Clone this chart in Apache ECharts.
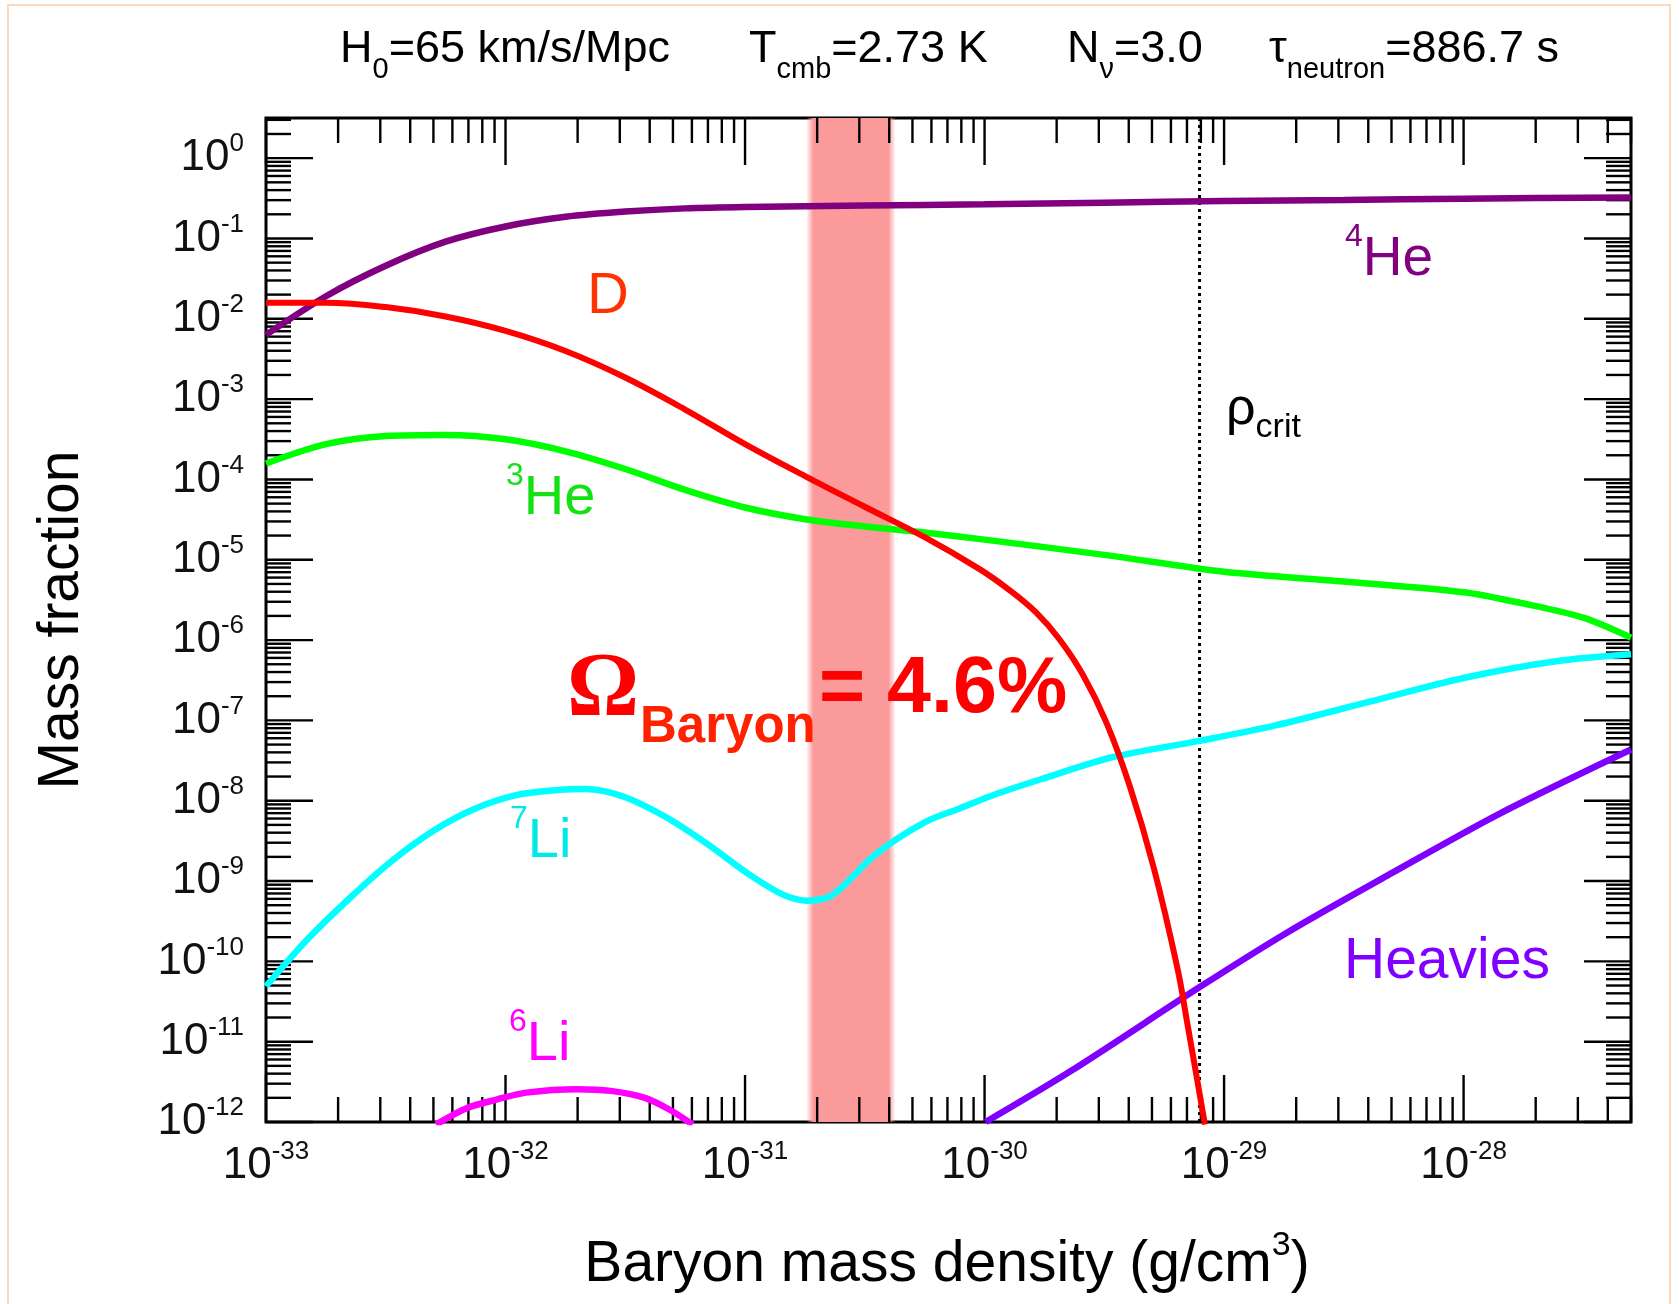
<!DOCTYPE html>
<html><head><meta charset="utf-8">
<script src="https://cdn.jsdelivr.net/npm/echarts@6/dist/echarts.min.js"></script>
<style>html,body{margin:0;padding:0;background:#fff}#c{width:1679px;height:1304px}</style>
</head><body><div id="c"></div><script>
// ---------------- data ----------------
const X_MIN = 1e-33, X_MAX = 5e-28, Y_MIN = 1e-12, Y_MAX = 3.162;
const RHO_CRIT = 7.9e-30;              // dotted line (critical density)
const BAND = [1.80e-31, 4.25e-31];     // shaded Omega_b band (incl. soft edges)

const he4X = [1e-33, 1.78e-33, 3.16e-33, 5.62e-33, 1e-32, 1.78e-32, 3.16e-32, 5.62e-32, 1e-31, 3.16e-31, 1e-30, 3.16e-30, 1e-29, 3.16e-29, 1e-28, 5e-28];
const he4Y = [6.31e-3, 1.91e-2, 4.57e-2, 9.12e-2, 0.141, 0.186, 0.216, 0.237, 0.247, 0.257, 0.266, 0.279, 0.292, 0.302, 0.313, 0.324];

const dX = [1e-33, 1.78e-33, 3.16e-33, 5.62e-33, 1e-32, 1.78e-32, 3.16e-32, 5.62e-32, 1e-31, 1.78e-31, 3.16e-31, 5.62e-31, 9.57e-31, 1.25e-30, 1.64e-30, 2.05e-30, 2.57e-30, 3.23e-30, 4.05e-30, 5.08e-30, 6.37e-30, 6.99e-30, 8.32e-30];
const dY = [1.58e-2, 1.58e-2, 1.40e-2, 1.07e-2, 7.08e-3, 3.98e-3, 1.86e-3, 7.41e-4, 2.75e-4, 1.10e-4, 4.57e-5, 1.91e-5, 7.59e-6, 4.34e-6, 2.21e-6, 1.03e-6, 3.72e-7, 9.33e-8, 1.48e-8, 1.48e-9, 8.53e-11, 1.84e-11, 9.3e-13];

const he3X = [1e-33, 1.78e-33, 3.16e-33, 5.62e-33, 1e-32, 1.78e-32, 3.16e-32, 5.62e-32, 1e-31, 1.78e-31, 3.16e-31, 5.62e-31, 1e-30, 3.16e-30, 1e-29, 3.16e-29, 1e-28, 1.78e-28, 3.16e-28, 5e-28];
const he3Y = [1.58e-4, 2.75e-4, 3.47e-4, 3.57e-4, 3.16e-4, 2.24e-4, 1.35e-4, 7.41e-5, 4.47e-5, 3.20e-5, 2.60e-5, 2.19e-5, 1.78e-5, 1.15e-5, 7.08e-6, 5.37e-6, 3.95e-6, 2.85e-6, 1.90e-6, 1.07e-6];

const li7X = [1e-33, 1.50e-33, 2.24e-33, 3.36e-33, 5.04e-33, 7.53e-33, 1.13e-32, 1.69e-32, 2.15e-32, 3.10e-32, 4.65e-32, 6.95e-32, 1.04e-31, 1.44e-31, 1.83e-31, 2.33e-31, 3.50e-31, 5.64e-31, 7.87e-31, 1.09e-30, 1.72e-30, 3.38e-30, 7.98e-30, 1.64e-29, 4.06e-29, 1.00e-28, 2.47e-28, 5e-28];
const li7Y = [4.9e-11, 1.92e-10, 6.15e-10, 1.79e-9, 4.29e-9, 8.05e-9, 1.19e-8, 1.37e-8, 1.40e-8, 1.13e-8, 6.31e-9, 2.90e-9, 1.21e-9, 6.78e-10, 5.69e-10, 6.78e-10, 2.14e-9, 5.41e-9, 8.02e-9, 1.18e-8, 1.85e-8, 3.45e-8, 5.60e-8, 8.67e-8, 1.71e-7, 3.37e-7, 5.48e-7, 6.65e-7];

const li6X = [5.13e-33, 6.95e-33, 9.23e-33, 1.22e-32, 1.99e-32, 2.75e-32, 3.79e-32, 4.83e-32, 6.04e-32];
const li6Y = [9.3e-13, 1.50e-12, 1.91e-12, 2.32e-12, 2.56e-12, 2.44e-12, 2.01e-12, 1.43e-12, 9.3e-13];

const hvX = [1.01e-30, 2.30e-30, 7.91e-30, 1.80e-29, 5.05e-29, 1.41e-28, 5e-28];
const hvY = [1.0e-12, 4.34e-12, 4.78e-11, 2.21e-10, 1.27e-9, 6.87e-9, 4.34e-8];

// tick layout (decades and log minor multipliers)
const xDecades = [-33, -32, -31, -30, -29, -28];
const yDecades = [-12, -11, -10, -9, -8, -7, -6, -5, -4, -3, -2, -1, 0];
const minorSteps = [2, 3, 4, 5, 6, 7, 8, 9];

// ---------------- chart ----------------
const FONT = "'Liberation Sans', Arial, Helvetica, sans-serif";
const zip = (xs, ys) => xs.map((x, i) => [x, ys[i]]);

function buildTicks(decades, lo, hi) {
  const out = [];
  decades.forEach(e => {
    const base = Math.pow(10, e);
    out.push([base, 1, e]);
    minorSteps.forEach(k => out.push([k * base, 0, e]));
  });
  return out.filter(t => t[0] >= lo * 0.9999 && t[0] <= hi * 1.0001);
}
const xTicks = buildTicks(xDecades, X_MIN, X_MAX).map(t => [t[0], Y_MIN, t[1], t[2]]);
const yTicks = buildTicks(yDecades, Y_MIN, Y_MAX).map(t => [X_MIN, t[0], t[1], t[2]]);

function lineSeries(name, xs, ys, color, width, smooth) {
  return {
    name, type: 'line', data: zip(xs, ys), smooth: smooth || 0.3,
    showSymbol: false, symbol: 'none', lineStyle: { color, width: width || 6.5 },
    itemStyle: { color }, z: 3, clip: true, silent: true, animation: false
  };
}

const TICK_STYLE = { stroke: '#000', lineWidth: 2.4 };
const LABEL_RICH = {
  b: { fontFamily: FONT, fontSize: 44, lineHeight: 54, fill: '#111' },
  e: { fontFamily: FONT, fontSize: 26, verticalAlign: 'top', fill: '#111' }
};
function tickSeries(isX, data) {
  return {
    type: 'custom', data, z: 2, clip: false, silent: true, animation: false,
    encode: { x: 0, y: 1 },
    renderItem(params, api) {
      const cs = params.coordSys;
      const p = api.coord([api.value(0), api.value(1)]);
      const major = api.value(2) === 1;
      const len = major ? 47 : 25;
      const children = [];
      const lab = '{b|10}{e|' + api.value(3) + '}';
      if (isX) {
        const x = p[0];
        children.push(
          { type: 'line', shape: { x1: x, y1: cs.y + cs.height, x2: x, y2: cs.y + cs.height - len }, style: TICK_STYLE },
          { type: 'line', shape: { x1: x, y1: cs.y, x2: x, y2: cs.y + len }, style: TICK_STYLE });
        if (major) children.push({ type: 'text', x: x, y: cs.y + cs.height + 17,
          style: { text: lab, rich: LABEL_RICH, fill: '#111', font: '44px ' + FONT, align: 'center', textAlign: 'center', verticalAlign: 'top', textVerticalAlign: 'top' } });
      } else {
        const y = p[1];
        children.push(
          { type: 'line', shape: { x1: cs.x, y1: y, x2: cs.x + len, y2: y }, style: TICK_STYLE },
          { type: 'line', shape: { x1: cs.x + cs.width, y1: y, x2: cs.x + cs.width - len, y2: y }, style: TICK_STYLE });
        if (major) children.push({ type: 'text', x: cs.x - 22, y: y,
          style: { text: lab, rich: LABEL_RICH, fill: '#111', font: '44px ' + FONT, align: 'right', textAlign: 'right', verticalAlign: 'middle', textVerticalAlign: 'middle' } });
      }
      return { type: 'group', children };
    }
  };
}

// shaded band + critical-density dotted line, drawn through the axes' scales
const bandSeries = {
  type: 'custom', z: 1, clip: true, silent: true, animation: false,
  data: [[BAND[0], Y_MIN, BAND[1], Y_MAX]], encode: { x: [0, 2], y: [1, 3] },
  renderItem(params, api) {
    const a = api.coord([api.value(0), api.value(1)]);
    const b = api.coord([api.value(2), api.value(3)]);
    return { type: 'rect', shape: { x: a[0], y: b[1], width: b[0] - a[0], height: a[1] - b[1] },
      style: { fill: new echarts.graphic.LinearGradient(0, 0, 1, 0, [
        { offset: 0, color: 'rgba(250,150,150,0)' }, { offset: 0.08, color: 'rgba(250,154,154,1)' },
        { offset: 0.92, color: 'rgba(250,154,154,1)' }, { offset: 1, color: 'rgba(250,150,150,0)' }]) } };
  }
};
const critSeries = {
  type: 'custom', z: 2, clip: true, silent: true, animation: false,
  data: [[RHO_CRIT, Y_MIN, RHO_CRIT, Y_MAX]], encode: { x: [0, 2], y: [1, 3] },
  renderItem(params, api) {
    const a = api.coord([api.value(0), api.value(1)]);
    const b = api.coord([api.value(2), api.value(3)]);
    return { type: 'line', shape: { x1: a[0], y1: a[1], x2: b[0], y2: b[1] },
      style: { stroke: '#000', lineWidth: 3, lineDash: [3, 4] } };
  }
};

function txt(x, y, text, style, extra) {
  return Object.assign({
    type: 'text', x, y, silent: true, z: 50,
    style: Object.assign({ text, align: 'left', textAlign: 'left', verticalAlign: 'middle', textVerticalAlign: 'middle' }, style)
  }, extra || {});
}
const titleRich = {
  b: { fontFamily: FONT, fontSize: 45, lineHeight: 68, fill: '#000' },
  s: { fontFamily: FONT, fontSize: 29, verticalAlign: 'bottom', fill: '#000' }
};
function supRich(color, size, supSize, lh) {
  return {
    b: { fontFamily: FONT, fontSize: size, lineHeight: lh, fill: color },
    s: { fontFamily: FONT, fontSize: supSize, verticalAlign: 'top', fill: color }
  };
}

const option = {
  backgroundColor: '#fff',
  animation: false,
  grid: { left: 266, top: 118, width: 1365, height: 1004, show: true, borderColor: '#000', borderWidth: 3, backgroundColor: 'transparent', containLabel: false, outerBoundsMode: 'none' },
  xAxis: {
    type: 'log', logBase: 10, min: X_MIN, max: X_MAX,
    axisLine: { show: false }, axisTick: { show: false }, splitLine: { show: false }, minorTick: { show: false },
    axisLabel: { show: false }
  },
  yAxis: {
    type: 'log', logBase: 10, min: Y_MIN, max: Y_MAX,
    axisLine: { show: false }, axisTick: { show: false }, splitLine: { show: false }, minorTick: { show: false },
    axisLabel: { show: false }
  },
  series: [
    bandSeries,
    critSeries,
    tickSeries(true, xTicks),
    tickSeries(false, yTicks),
    lineSeries('4He', he4X, he4Y, '#800080'),
    lineSeries('3He', he3X, he3Y, '#00ff00'),
    lineSeries('7Li', li7X, li7Y, '#00ffff'),
    lineSeries('6Li', li6X, li6Y, '#ff00ff'),
    lineSeries('Heavies', hvX, hvY, '#7f00ff'),
    lineSeries('D', dX, dY, '#ff0000', 6, 0.4)
  ],
  graphic: [
    { type: 'rect', shape: { x: 8, y: 5, width: 1662, height: 1320 }, style: { fill: 'none', stroke: '#fbd7bb', lineWidth: 2 }, silent: true, z: 0 },
    // header
    txt(340, 50, '{b|H}{s|0}{b|=65 km/s/Mpc}', { rich: titleRich, fill: '#000', font: '45px ' + FONT }),
    txt(749, 50, '{b|T}{s|cmb}{b|=2.73 K}', { rich: titleRich, fill: '#000', font: '45px ' + FONT }),
    txt(1067, 50, '{b|N}{s|ν}{b|=3.0}', { rich: titleRich, fill: '#000', font: '45px ' + FONT }),
    txt(1269, 50, '{b|τ}{s|neutron}{b|=886.7 s}', { rich: titleRich, fill: '#000', font: '45px ' + FONT }),
    // axis titles
    txt(62, 620, 'Mass fraction', { font: '57px ' + FONT, fill: '#000', align: 'center', textAlign: 'center' }, { rotation: Math.PI / 2 }),
    txt(947, 1265, '{b|Baryon mass density (g/cm}{s|3}{b|)}', { rich: supRich('#000', 57, 34, 72), fill: '#000', align: 'center', textAlign: 'center', font: '57px ' + FONT }),
    // curve labels
    txt(1345, 260, '{s|4}{b|He}', { rich: supRich('#800080', 55, 32, 78), fill: '#800080', font: '55px ' + FONT }),
    txt(587, 297, 'D', { font: '58px ' + FONT, fill: '#ff3300' }),
    txt(506, 499, '{s|3}{b|He}', { rich: supRich('#14e014', 56, 32, 78), fill: '#14e014', font: '56px ' + FONT }),
    txt(510, 842, '{s|7}{b|Li}', { rich: supRich('#00e8e8', 56, 32, 78), fill: '#00e8e8', font: '56px ' + FONT }),
    txt(509, 1045, '{s|6}{b|Li}', { rich: supRich('#ff00ff', 56, 32, 78), fill: '#ff00ff', font: '56px ' + FONT }),
    txt(1344, 962, 'Heavies', { font: '57px ' + FONT, fill: '#7f00ff' }),
    txt(1226, 410, '{b|ρ}{s|crit}', { rich: { b: { fontFamily: FONT, fontSize: 52, lineHeight: 70, fill: '#000' }, s: { fontFamily: FONT, fontSize: 34, verticalAlign: 'bottom', fill: '#000' } }, fill: '#000', font: '52px ' + FONT }),
    // Omega annotation
    txt(567, 692, 'Ω', { font: 'bold 90px "Liberation Serif", "Times New Roman", serif', fill: '#ff0000' }),
    txt(640, 728, 'Baryon', { font: 'bold 51px ' + FONT, fill: '#ff2200' }),
    txt(819, 690, '= 4.6%', { font: 'bold 79px ' + FONT, fill: '#ff0000' })
  ]
};

const chart = echarts.init(document.getElementById('c'), null, { renderer: 'canvas', width: 1679, height: 1304 });
chart.setOption(option);
</script></body></html>
